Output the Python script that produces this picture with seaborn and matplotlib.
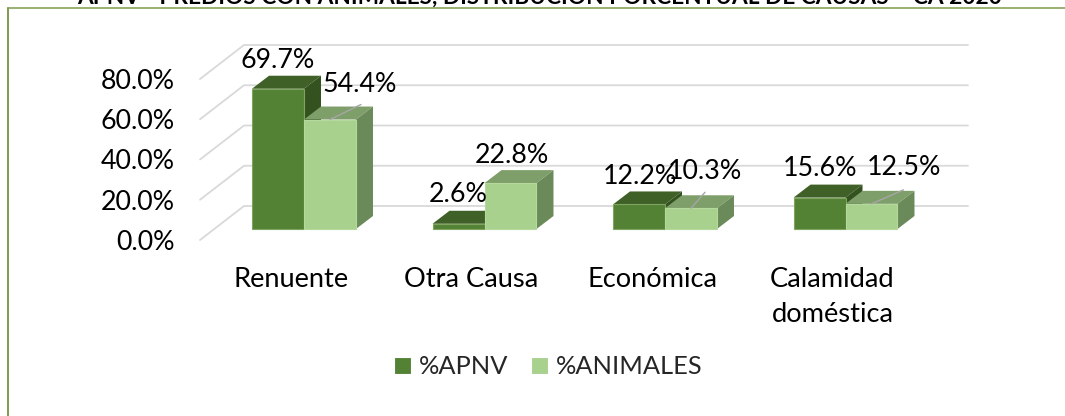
"""
APNV vs ANIMALES causes, pseudo 3D bars
"""
import pandas as pd
import seaborn as sns
import matplotlib.pyplot as plt
from matplotlib.lines import Line2D
from matplotlib.patches import Polygon

title = "APNV - PREDIOS CON ANIMALES, DISTRIBUCIÓN PORCENTUAL DE CAUSAS – CA 2020"
categories = ["Renuente", "Otra Causa", "Económica", "Calamidad\ndoméstica"]
series_names = ["%APNV", "%ANIMALES"]
apnv = [69.7, 2.6, 12.2, 15.6]
animales = [54.4, 22.8, 10.3, 12.5]
y_ticks = [0, 20, 40, 60, 80]

# label shift from top centre of each bar, in pixels
label_shift = [
    [(0, 28), (0, 29), (1, 28), (1, 29)],
    [(30, 35), (1, 28), (14, 37), (32, 36)],
]
leader_shift = [None, None, None, None], [(31, 15), None, (14, 16), (32, 14)]

W, H = 1065, 416
FONT = 19.3
CAT_FONT = 19.6
LEGEND_FONT = 18.3
# pixel layout of the chart
LEFT, RIGHT, FLOOR, TOP = 200, 968, 240, 44
BAR_BASE = 229
PX_PCT = 2.0125
PX_CAT = 180.5
FIRST_CAT = 304
DEPTH_X, DEPTH_Y = 17, 13
WALL_X, WALL_Y = 44, 34

colors = {"%APNV": "#548235", "%ANIMALES": "#A9D18E"}
top_colors = ["#3F6127", "#7F9F6A"]
side_colors = ["#34521F", "#6B8A5A"]
edge_colors = ["#7FA45F", "#B5D89C"]


def draw_depth(ax):
    dx = DEPTH_X / PX_CAT
    dy = DEPTH_Y / PX_PCT
    for i, bars in enumerate(ax.containers):
        for bar in bars:
            x0, x1 = bar.get_x(), bar.get_x() + bar.get_width()
            y1 = bar.get_height()
            ax.add_patch(Polygon([(x0, y1), (x1, y1), (x1 + dx, y1 + dy), (x0 + dx, y1 + dy)],
                                 color=top_colors[i], lw=0, zorder=2 + i, clip_on=False))
            ax.add_patch(Polygon([(x1, 0), (x1 + dx, dy), (x1 + dx, y1 + dy), (x1, y1)],
                                 color=side_colors[i], lw=0, zorder=2 + i, clip_on=False))
            bar.set_zorder(4)


def draw_grid(ax):
    floor_y = (BAR_BASE - FLOOR) / PX_PCT
    x_left = (LEFT - FIRST_CAT) / PX_CAT
    x_wall = (LEFT + WALL_X - FIRST_CAT) / PX_CAT
    x_right = (RIGHT - FIRST_CAT) / PX_CAT
    for v in y_ticks:
        front = v + floor_y
        back = front + WALL_Y / PX_PCT
        ax.plot([x_left, x_wall, x_right], [front, back, back], color="#D9D9D9",
                lw=1.3, zorder=1, clip_on=False)


def draw_labels(ax):
    for i, bars in enumerate(ax.containers):
        values = [apnv, animales][i]
        for j, bar in enumerate(bars):
            xy = (bar.get_x() + bar.get_width() / 2, bar.get_height())
            ax.annotate(f"{values[j]:.1f}%", xy=xy, xytext=label_shift[i][j],
                        textcoords="offset pixels", ha="center", va="center",
                        fontsize=FONT, color="black", zorder=6)
            if leader_shift[i][j] is not None:
                sx, sy = leader_shift[i][j]
                ax.annotate("", xy=xy, xytext=(sx, sy), textcoords="offset pixels",
                            arrowprops=dict(arrowstyle="-", color="#A6A6A6", lw=1,
                                            shrinkA=0, shrinkB=0), zorder=5)


def main():
    sns.set_theme(style="white")
    plt.rcParams["font.family"] = ["Lato", "DejaVu Sans"]

    df = pd.DataFrame({
        "causa": categories * 2,
        "serie": [series_names[0]] * 4 + [series_names[1]] * 4,
        "valor": apnv + animales,
    })

    fig = plt.figure(figsize=(W / 100, H / 100), dpi=100)
    ax = fig.add_axes([LEFT / W, 1 - FLOOR / H, (RIGHT - LEFT) / W, (FLOOR - TOP) / H])
    ax.patch.set_alpha(0)

    sns.barplot(df, x="causa", y="valor", hue="serie", palette=colors, width=0.576,
                gap=0, saturation=1, errorbar=None, ax=ax, linewidth=0.8)
    for i, bars in enumerate(ax.containers):
        for bar in bars:
            bar.set_edgecolor(edge_colors[i])

    ax.set_xlim((LEFT - FIRST_CAT) / PX_CAT, (RIGHT - FIRST_CAT) / PX_CAT)
    ax.set_ylim((BAR_BASE - FLOOR) / PX_PCT, (BAR_BASE - TOP) / PX_PCT)

    floor_y = (BAR_BASE - FLOOR) / PX_PCT
    ax.set_yticks([v + floor_y for v in y_ticks])
    ax.set_yticklabels([f"{v:.1f}%" for v in y_ticks], fontsize=FONT, color="black")
    ax.set_xticks([i - 13 / PX_CAT for i in range(len(categories))])
    ax.set_xticklabels(categories, fontsize=CAT_FONT, color="black", linespacing=1.52)
    ax.tick_params(axis="y", length=0, pad=18.5)
    ax.tick_params(axis="x", length=0, pad=19.5)
    ax.set_xlabel("")
    ax.set_ylabel("")
    sns.despine(ax=ax, left=True, bottom=True)

    draw_grid(ax)
    draw_depth(ax)
    draw_labels(ax)

    handles, labels = ax.get_legend_handles_labels()
    ax.legend(handles, labels, ncol=2, frameon=False, fontsize=LEGEND_FONT, loc="center",
              bbox_to_anchor=(548.5 / W, 1 - 367 / H), bbox_transform=fig.transFigure,
              handlelength=0.67, handleheight=0.67, handletextpad=0.3, columnspacing=0.9,
              borderpad=0, borderaxespad=0)

    # outer frame, only top and left show in the crop
    frame = "#7F9B4B"
    fig.add_artist(Line2D([8 / W, 8 / W], [0, 1 - 7.5 / H], color=frame, lw=1.4))
    fig.add_artist(Line2D([8 / W, 1], [1 - 7.5 / H, 1 - 7.5 / H], color=frame, lw=1.1))
    fig.text(540 / W, 1 - 3.5 / H, title, ha="center", va="baseline", fontsize=16.3,
             fontweight="bold", color="black")

    fig.savefig("out.png", dpi=100)
    return


if __name__ == "__main__":
    main()
